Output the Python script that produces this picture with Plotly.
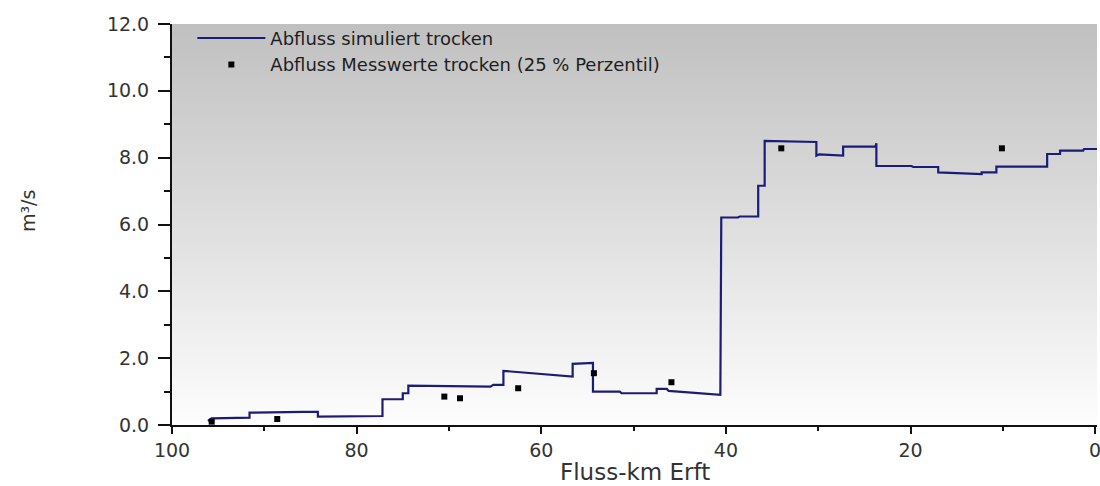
import plotly.graph_objects as go

# ---- data ----
sim_km = [96.1, 95.7, 91.6, 91.6, 85.8, 84.2, 84.2, 78.6, 78.5, 77.2, 77.2, 75.0, 75.0, 74.4, 74.4,
          65.5, 65.2, 64.1, 64.1, 56.6, 56.6, 54.4, 54.4, 51.5, 51.3, 47.5, 47.5, 46.4, 46.2, 40.6,
          40.5, 38.7, 38.5, 36.5, 36.5, 35.8, 35.8, 32.3, 30.2, 30.2, 29.9, 27.3, 27.3, 23.8, 23.7,
          23.7, 19.9, 19.7, 17.0, 17.0, 12.3, 12.3, 10.7, 10.7, 5.2, 5.2, 3.8, 3.8, 1.3, 1.2, -0.2]
sim_q = [0.12, 0.20, 0.22, 0.37, 0.39, 0.39, 0.25, 0.25, 0.27, 0.27, 0.77, 0.77, 0.95, 0.95, 1.18,
         1.15, 1.20, 1.20, 1.62, 1.45, 1.83, 1.86, 1.00, 1.00, 0.95, 0.95, 1.08, 1.08, 1.02, 0.90,
         6.21, 6.21, 6.24, 6.24, 7.16, 7.16, 8.50, 8.48, 8.47, 8.06, 8.10, 8.06, 8.33, 8.33, 8.43,
         7.75, 7.75, 7.72, 7.72, 7.56, 7.51, 7.56, 7.56, 7.73, 7.73, 8.11, 8.11, 8.21, 8.21, 8.26, 8.26]

mess_km = [95.7, 88.6, 70.5, 68.8, 62.5, 54.3, 45.9, 34.0, 10.1]
mess_q = [0.10, 0.18, 0.85, 0.80, 1.10, 1.55, 1.28, 8.28, 8.28]

x_ticks = [100, 80, 60, 40, 20, 0]
y_ticks = [0, 2, 4, 6, 8, 10, 12]
y_tick_labels = ["0.0", "2.0", "4.0", "6.0", "8.0", "10.0", "12.0"]

FONT = "DejaVu Sans"

fig = go.Figure()
fig.add_trace(go.Scatter(
    x=sim_km, y=sim_q, mode="lines", name="Abfluss simuliert trocken",
    line=dict(color="#1c1c78", width=2.2)))
fig.add_trace(go.Scatter(
    x=mess_km, y=mess_q, mode="markers", name="Abfluss Messwerte trocken (25 % Perzentil)",
    marker=dict(symbol="square", color="#000000", size=6, line=dict(width=0))))

# gradient background (grey at top to white at bottom)
n = 80
shapes = []
for i in range(n):
    t0 = i / n
    t1 = (i + 1) / n
    f = (t0 + t1) / 2
    c = int(round(253 - (253 - 192) * f))
    shapes.append(dict(type="rect", xref="x domain", yref="y domain",
                       x0=0, x1=1, y0=t0, y1=min(1, t1 + 0.002),
                       fillcolor=f"rgb({c},{c},{c})", line=dict(width=0), layer="below"))

fig.update_layout(
    width=1100, height=486,
    margin=dict(l=172, r=3, t=24, b=61),
    paper_bgcolor="white", plot_bgcolor="white",
    shapes=shapes,
    font=dict(family=FONT, color="#2a2a2a"),
    showlegend=True,
    legend=dict(x=0.022, y=1.0105, xanchor="left", yanchor="top",
                bgcolor="rgba(0,0,0,0)", borderwidth=0,
                font=dict(family=FONT, size=18, color="#1e1e1e"),
                itemwidth=68, tracegroupgap=0),
    xaxis=dict(range=[100, -0.2], showgrid=False, zeroline=False, automargin=False,
               showline=True, linecolor="#111111", linewidth=2,
               ticks="outside", ticklen=7, tickwidth=2, tickcolor="#111111",
               tickvals=x_ticks, ticktext=[str(v) for v in x_ticks],
               ticklabeloverflow="allow",
               tickfont=dict(family=FONT, size=19, color="#333333"),
               minor=dict(dtick=10, ticks="outside", ticklen=4, tickwidth=2, tickcolor="#111111")),
    yaxis=dict(range=[0, 12], showgrid=False, zeroline=False, automargin=False,
               showline=True, linecolor="#111111", linewidth=2,
               ticks="outside", ticklen=12, tickwidth=2, tickcolor="#111111",
               tickvals=y_ticks, ticktext=y_tick_labels,
               ticklabelstandoff=5,
               tickfont=dict(family=FONT, size=19, color="#333333"),
               minor=dict(dtick=1, ticks="outside", ticklen=6, tickwidth=2, tickcolor="#111111")),
    annotations=[
        dict(text="m³/s", xref="paper", yref="paper",
             x=(28 - 172) / 925, y=(425 - 211) / 401, xanchor="center", yanchor="middle",
             textangle=-90, showarrow=False,
             font=dict(family=FONT, size=19, color="#333333")),
        dict(text="Fluss-km Erft", xref="paper", yref="paper",
             x=0.5, y=(425 - 486) / 401, xanchor="center", yanchor="bottom",
             showarrow=False, borderpad=0,
             font=dict(family=FONT, size=23, color="#333333")),
    ],
)

fig.write_html("out.html")
